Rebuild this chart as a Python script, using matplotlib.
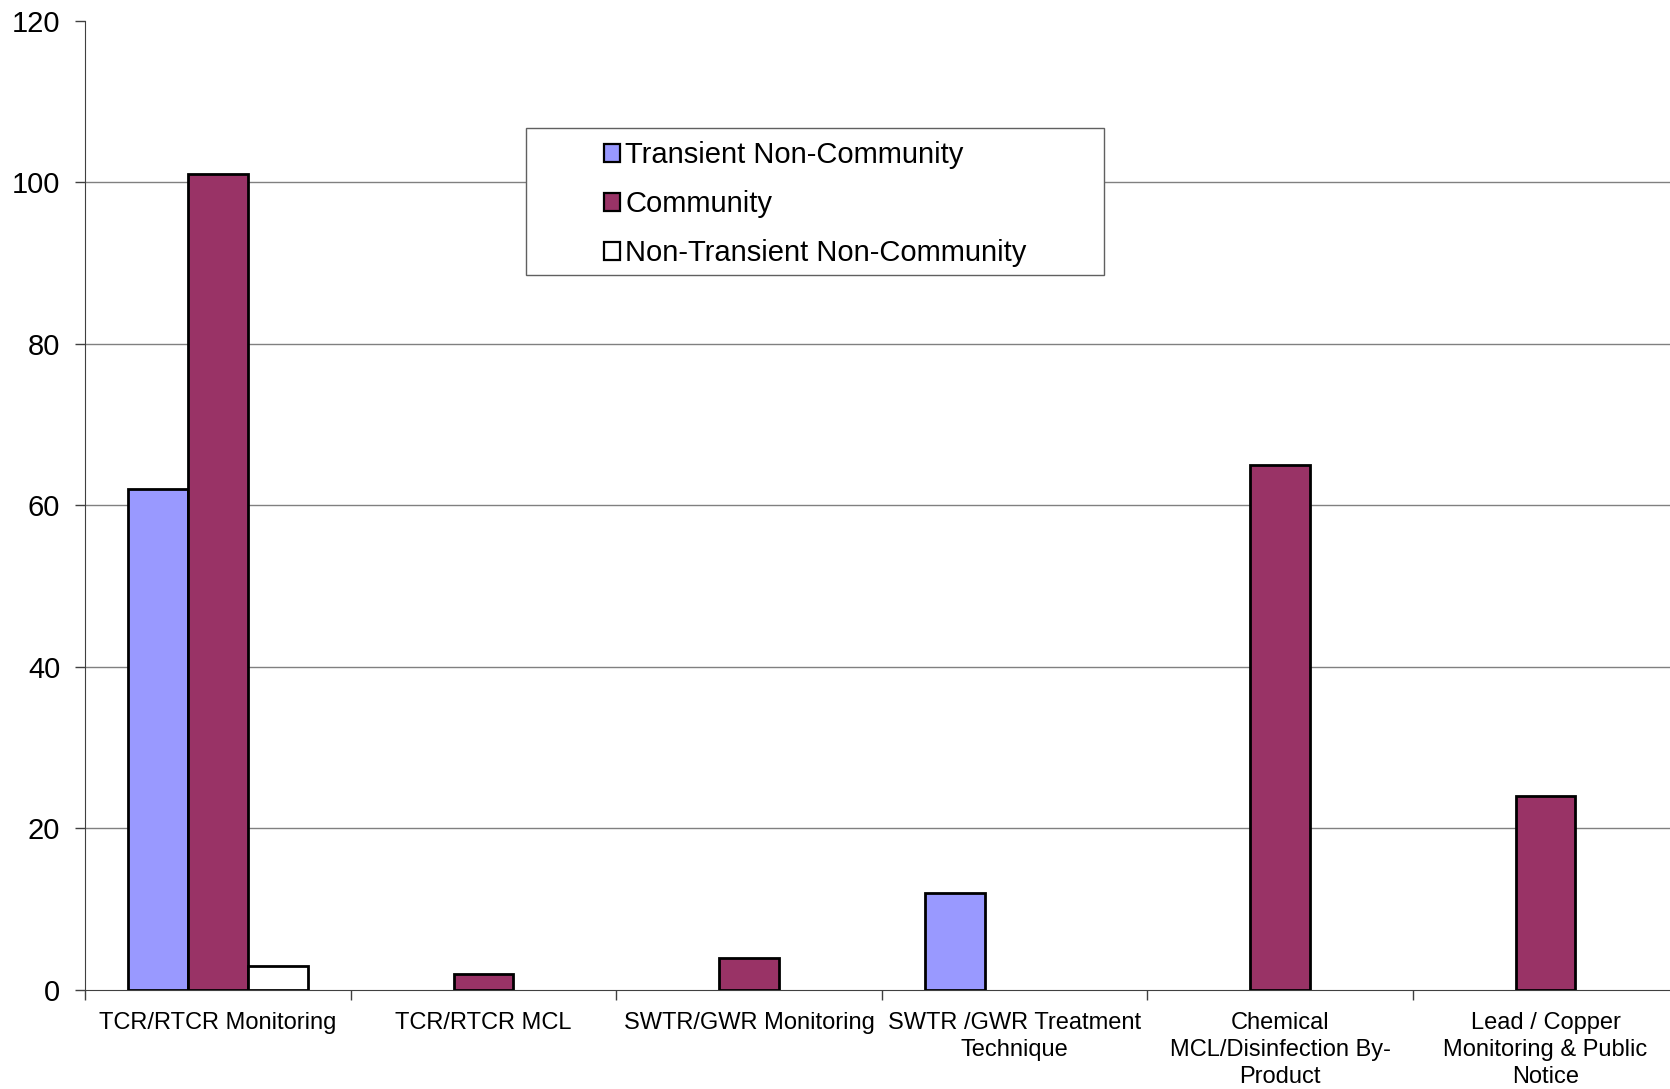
import numpy as np
import matplotlib
matplotlib.use("Agg")
import matplotlib.pyplot as plt
from matplotlib.patches import Rectangle

plt.rcParams['font.family'] = ['Liberation Sans', 'DejaVu Sans']

# Data
categories = ["TCR/RTCR Monitoring", "TCR/RTCR MCL", "SWTR/GWR Monitoring",
              "SWTR /GWR Treatment\nTechnique",
              "Chemical\nMCL/Disinfection By-\nProduct",
              "Lead / Copper\nMonitoring & Public\nNotice"]
series_names = ["Transient Non-Community", "Community", "Non-Transient Non-Community"]
transient = [62, 0, 0, 12, 0, 0]
community = [101, 2, 4, 0, 65, 24]
non_transient = [3, 0, 0, 0, 0, 0]
colors = ["#9999FF", "#993366", "#FFFFFF"]

fig = plt.figure(figsize=(16.7, 10.89), dpi=100)
ax = fig.add_axes([0.051, 0.091, 0.954, 0.890])

x = np.arange(len(categories))
w = 0.225
for k, (vals, name, c) in enumerate(zip([transient, community, non_transient], series_names, colors)):
    v = np.array(vals, dtype=float)
    xs = x + (k - 1) * w
    mask = v > 0
    ax.bar(xs[mask], v[mask], width=w, color=c, edgecolor='black', linewidth=2.0,
           zorder=3)
    ax.bar([np.nan], [np.nan], width=w, color=c, edgecolor='black', linewidth=1.6, label=name)

ax.set_xlim(-0.5, len(categories) - 0.5)
ax.set_ylim(0, 120)
ax.set_yticks(np.arange(0, 121, 20))
for yv in range(20, 120, 20):
    ax.axhline(yv, color='#808080', linewidth=1.0, zorder=1)

ax.spines['top'].set_visible(False)
ax.spines['right'].set_visible(False)
ax.spines['left'].set_color('#404040')
ax.spines['bottom'].set_color('#404040')
ax.tick_params(axis='y', direction='out', length=7, width=1, color='#404040',
               labelsize=21, pad=11)

ax.set_xticks(x)
ax.set_xticklabels(categories, fontsize=17, linespacing=1.3)
ax.tick_params(axis='x', which='major', length=0, pad=16)
ax.set_xticks(np.arange(-0.5, len(categories) - 0.4, 1), minor=True)
ax.tick_params(axis='x', which='minor', direction='out', length=7, width=1, color='#404040')

# legend box
ax.add_patch(Rectangle((0.2767, 0.738), 0.363, 0.151, transform=ax.transAxes,
                       facecolor='white', edgecolor='#606060', linewidth=1.0, zorder=4))
leg = ax.legend(loc='upper left', bbox_to_anchor=(0.3107, 0.8998), frameon=False, fontsize=21,
                handlelength=0.55, handleheight=0.55, handletextpad=0.2, labelspacing=0.72,
                borderpad=0.3)
leg.set_zorder(5)

fig.savefig("out.png", dpi=100)
